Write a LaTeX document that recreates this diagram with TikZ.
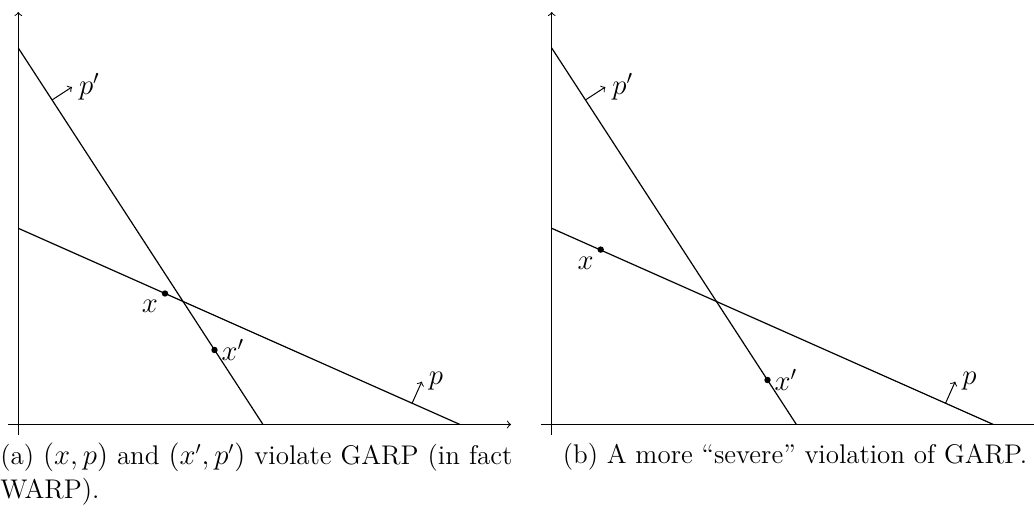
\documentclass[tikz,border=0pt]{standalone}
\usepackage{amsmath,amssymb}
\usepackage{tikz}
\usepackage{xcolor}
\usetikzlibrary{positioning}

\begin{document}
\begin{tikzpicture}[
      x=0.5pt,y=-0.5pt,
      axis/.style={->,line width=0.5pt},
      budget/.style={line width=0.6pt},
      normal/.style={->,line width=0.5pt},
      dot/.style={circle,fill,inner sep=0pt,minimum size=3.2pt},
      lbl/.style={font=\Large},
      captext/.style={font=\fontsize{13.5}{17}\selectfont,inner sep=0pt}]
    \useasboundingbox (0,0) rectangle (1034,529);
    % (a) GARP / WARP
    \coordinate (ya0) at (18.3,435);
    \coordinate (ya1) at (18.3,12);
    \coordinate (xa0) at (8,424.5);
    \coordinate (xa1) at (511,424.5);
    \coordinate (pa0) at (18.3,228.3);
    \coordinate (pa1) at (460,424.5);
    \coordinate (qa0) at (18.3,48);
    \coordinate (qa1) at (263,424.5);
    \coordinate (na0) at (52,100);
    \coordinate (na1) at (72,87);
    \coordinate (ma0) at (412,403.5);
    \coordinate (ma1) at (421.8,381.6);
    \draw[axis] (ya0)--(ya1);
    \draw[axis] (xa0)--(xa1);
    \draw[budget] (qa0)--(qa1);
    \draw[budget] (pa0)--(pa1);
    \draw[normal] (na0)--(na1);
    \draw[normal] (ma0)--(ma1);
    \node[lbl,right] (pprimeA) at (na1) {$p'$};
    \node[lbl,right] (pA) at (ma1) {$p$};
    \node[dot] (xA) at (165,293.5) {};
    \node[dot] (xprimeA) at (214.5,350) {};
    \node[lbl,below left] at (xA.center) {$x$};
    \node[lbl,right] at (xprimeA.center) {$x'$};
    \node[captext,anchor=north west,text width=256pt,align=justify] (capA) at (0,443)
      {(a) $(x,p)$ and $(x',p')$ violate GARP (in fact\linebreak WARP).};
    % (b) more severe
    \coordinate (yb0) at (551.7,435);
    \coordinate (yb1) at (551.7,12);
    \coordinate (xb0) at (541.4,424.5);
    \coordinate (xb1) at (1044.4,424.5);
    \coordinate (pb0) at (551.7,228.3);
    \coordinate (pb1) at (993.4,424.5);
    \coordinate (qb0) at (551.7,48);
    \coordinate (qb1) at (796.4,424.5);
    \coordinate (nb0) at (585.4,100);
    \coordinate (nb1) at (605.4,87);
    \coordinate (mb0) at (945.4,403.5);
    \coordinate (mb1) at (955.2,381.6);
    \draw[axis] (yb0)--(yb1);
    \draw[axis] (xb0)--(xb1);
    \draw[budget] (qb0)--(qb1);
    \draw[budget] (pb0)--(pb1);
    \draw[normal] (nb0)--(nb1);
    \draw[normal] (mb0)--(mb1);
    \node[lbl,right] (pprimeB) at (nb1) {$p'$};
    \node[lbl,right] (pB) at (mb1) {$p$};
    \node[dot] (xB) at (600.7,249.6) {};
    \node[dot] (xprimeB) at (767.5,380) {};
    \node[lbl,below left] at (xB.center) {$x$};
    \node[lbl,right] at (xprimeB.center) {$x'$};
    \node[captext,anchor=base] (capB) at (795,463)
      {(b) A more ``severe'' violation of GARP.};
  \end{tikzpicture}
\end{document}
